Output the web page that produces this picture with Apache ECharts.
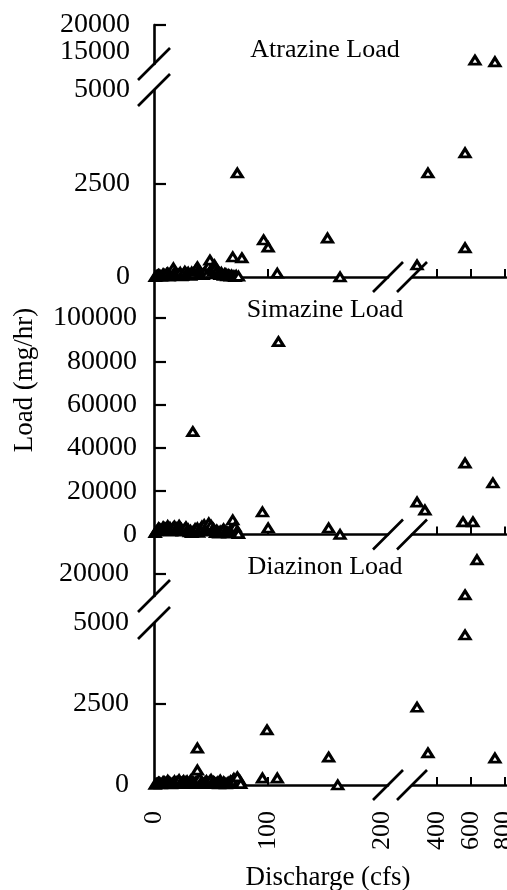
<!DOCTYPE html>
<html>
<head>
<meta charset="utf-8">
<script src="https://cdn.jsdelivr.net/npm/echarts@6/dist/echarts.min.js"></script>
<style>
html,body{margin:0;padding:0;background:#fff;}
#chart{width:507px;height:890px;}
</style>
</head>
<body>
<div id="chart"></div>
<script>
// ---------------- data: [discharge (cfs), load (mg/hr)] ----------------
const atrazine = [
  [1,10],[2,30],[3,40],[4,60],[5,50],[6,20],[7,30],[8,80],[9,60],[10,40],[11,90],[12,110],[13,20],[14,70],
  [15,100],[16,50],[17,240],[18,130],[19,90],[20,50],[21,60],[22,80],[23,120],[24,30],[25,40],[26,90],
  [27,150],[28,60],[29,100],[30,120],[31,70],[32,40],[33,130],[34,80],[35,90],[36,160],[37,200],[38,270],
  [39,180],[40,150],[41,100],[42,80],[43,60],[44,110],[45,130],[46,180],[47,90],[48,300],[49,450],[50,200],
  [51,220],[52,150],[53,320],[54,250],[55,160],[56,80],[57,100],[58,60],[59,120],[60,60],[61,40],[62,90],
  [63,80],[64,30],[65,60],[66,40],[67,20],[68,50],[70,30],[71,10],[72,40],[74,20],
  [73,2780],[69,535],[77,510],[96,990],[100,800],[108,100],[152,1040],[163,0],
  [280,320],[345,2780],[566,780],[566,3320],[625,13500],[744,13200]
];
const simazine = [
  [1,800],[2,1500],[3,2000],[4,3000],[5,2600],[6,2200],[7,1800],[8,3500],[9,3000],[10,2800],[11,2200],
  [12,4000],[13,2800],[14,3200],[15,1600],[16,2500],[17,3400],[18,3800],[19,2000],[20,3000],[21,2500],
  [22,4200],[23,3000],[24,2600],[25,1500],[26,2000],[27,2500],[28,3500],[29,1800],[30,2400],[31,1200],
  [32,1800],[33,800],[34,1200],[35,1500],[36,2600],[37,1800],[38,3000],[39,1000],[40,2000],[41,2600],
  [42,3800],[43,3000],[44,4500],[45,2000],[46,3200],[47,3500],[48,5300],[49,2500],[50,4200],[51,1500],
  [52,2800],[53,1800],[54,800],[55,2000],[56,1200],[57,600],[58,1500],[59,900],[60,1800],[61,2500],
  [62,800],[63,1500],[64,1200],[65,600],[66,1000],[67,2000],[68,2500],[69,6700],[70,1200],[71,3500],
  [72,800],[73,1500],[74,400],
  [34,47500],[109,89100],[95,10400],[100,3000],[153,3000],[163,0],
  [280,15000],[327,11300],[554,5800],[613,5800],[732,23800],[566,33000]
];
const diazinon = [
  [1,20],[2,40],[3,50],[4,80],[5,70],[6,30],[7,40],[8,100],[9,90],[10,60],[11,50],[12,140],[13,100],
  [14,70],[15,30],[16,50],[17,80],[18,120],[19,60],[20,90],[21,110],[22,160],[23,40],[24,70],[25,90],
  [26,130],[27,60],[28,100],[29,120],[30,60],[31,40],[32,150],[33,70],[34,110],[35,50],[36,80],[37,100],
  [39,150],[40,200],[41,60],[42,90],[43,40],[44,60],[45,90],[46,130],[47,50],[48,80],[49,120],[50,170],
  [51,60],[52,100],[53,80],[54,40],[55,60],[56,90],[57,30],[58,150],[59,70],[60,40],[61,90],[62,60],
  [63,30],[64,50],[65,80],[66,40],[67,120],[68,90],[69,150],[70,200],[71,120],[74,60],[75,150],[76,40],
  [38,1140],[38,460],[73,250],[95,215],[108,215],[99,1700],[153,860],[161,0],
  [280,2400],[345,990],[744,830],[566,4630],[566,16000],[637,22500]
];
const titles = ['Atrazine Load', 'Simazine Load', 'Diazinon Load'];
const xLeftLabels = [0, 100, 200];
const xRightLabels = [400, 600, 800];
const yBrokenLowLabels = [0, 2500, 5000];
const atrazineHighLabels = [15000];
const atrazineTopLabels = [20000];
const simazineLabels = [0, 20000, 40000, 60000, 80000, 100000];
const diazinonHighLabels = [20000];

// ---------------- layout ----------------
const FONT = 'Liberation Serif';
const AX = 154;
const xSegs = {
  left:  {left: AX,  right: 388, min: 0,   max: 205, ticks: [100], labels: xLeftLabels},
  right: {left: 412, right: 506, min: 250, max: 810, ticks: xRightLabels, labels: xRightLabels}
};
const panels = [
  {data: atrazine, title: titles[0], titleY: 50, labelMargin: 24, split: 5000,
   segs: [
     {key: 'high', top: 25, bottom: 64, min: 12800, max: 20000, ticks: [20000], labels: atrazineHighLabels, extraLabels: atrazineTopLabels},
     {key: 'low', top: 90, bottom: 277, min: 0, max: 5000, ticks: [2500], labels: yBrokenLowLabels, base: true}
   ], yBreak: [64, 90]},
  {data: simazine, title: titles[1], titleY: 310, labelMargin: 17, split: null,
   segs: [
     {key: 'all', top: 277, bottom: 534.5, min: 0, max: 119000, ticks: [20000,40000,60000,80000,100000], labels: simazineLabels, base: true}
   ]},
  {data: diazinon, title: titles[2], titleY: 567, labelMargin: 25, split: 5000,
   segs: [
     {key: 'high', top: 534.5, bottom: 596, min: 15800, max: 27200, ticks: [20000], labels: diazinonHighLabels},
     {key: 'low', top: 623, bottom: 785, min: 0, max: 5000, ticks: [2500], labels: yBrokenLowLabels, base: true, xLabels: true}
   ], yBreak: [596, 623]}
];

const grids = [], xAxes = [], yAxes = [], series = [], graphics = [];
const black = '#000';
const lineW = 2.6;
const plain = function (v) { return String(v); };

function yAxisDef(gi, ys, show, labels, margin, lineShow, tickShow) {
  return {
    type: 'value', gridIndex: gi, min: ys.min, max: ys.max, position: 'left', offset: 0,
    axisLine: {show: lineShow, onZero: false, lineStyle: {color: black, width: lineW}},
    axisTick: {show: tickShow, inside: true, length: 12, customValues: ys.ticks, lineStyle: {color: black, width: 2.2}},
    axisLabel: {show: show, customValues: labels, margin: margin,
                hideOverlap: false, showMinLabel: true, showMaxLabel: true, formatter: plain,
                fontFamily: FONT, fontSize: 28, color: black},
    splitLine: {show: false}
  };
}

panels.forEach(function (p) {
  p.segs.forEach(function (ys) {
    ['left', 'right'].forEach(function (side) {
      const xs = xSegs[side];
      const gi = grids.length;
      grids.push({left: xs.left, width: xs.right - xs.left, top: ys.top, height: ys.bottom - ys.top,
                  containLabel: false, outerBoundsMode: 'none', show: false});
      const showX = !!ys.base;
      xAxes.push({
        type: 'value', gridIndex: gi, min: xs.min, max: xs.max,
        axisLine: {show: showX, onZero: false, lineStyle: {color: black, width: lineW}},
        axisTick: {show: showX, inside: true, length: 8, customValues: xs.ticks, lineStyle: {color: black, width: 2}},
        axisLabel: {show: !!ys.xLabels, customValues: xs.labels, rotate: 90, margin: 26,
                    hideOverlap: false, showMinLabel: true, showMaxLabel: true, formatter: plain,
                    fontFamily: FONT, fontSize: 26, color: black},
        splitLine: {show: false}
      });
      const isLeft = side === 'left';
      const yi = yAxes.length;
      yAxes.push(yAxisDef(gi, ys, isLeft, ys.labels, p.labelMargin, isLeft, isLeft));
      if (isLeft && ys.extraLabels) {
        yAxes.push(yAxisDef(gi, ys, true, ys.extraLabels, p.labelMargin, false, false));
      }
      const pts = p.data.filter(function (d) {
        const inX = isLeft ? d[0] <= xs.max : d[0] > xSegs.left.max;
        let inY = true;
        if (p.split !== null) inY = ys.key === 'high' ? d[1] > p.split : d[1] <= p.split;
        return inX && inY;
      });
      series.push({
        type: 'scatter', xAxisIndex: gi, yAxisIndex: yi, data: pts, clip: false,
        symbol: 'triangle', symbolSize: [10, 8],
        itemStyle: {color: '#fff', borderColor: black, borderWidth: 3, opacity: 1},
        emphasis: {disabled: true}, silent: true, z: 3
      });
    });
  });
  // x-axis break slashes on the base line
  const base = p.segs[p.segs.length - 1].bottom;
  [xSegs.left.right, xSegs.right.left].forEach(function (cx) {
    graphics.push({type: 'line', shape: {x1: cx - 15, y1: base + 15, x2: cx + 15, y2: base - 15},
                   style: {stroke: black, lineWidth: lineW}, z: 10});
  });
  // y-axis break slashes
  if (p.yBreak) {
    p.yBreak.forEach(function (cy) {
      graphics.push({type: 'line', shape: {x1: AX - 16, y1: cy + 16, x2: AX + 16, y2: cy - 16},
                     style: {stroke: black, lineWidth: lineW}, z: 10});
    });
  }
  graphics.push({type: 'text', x: 325, y: p.titleY, z: 10,
    style: {text: p.title, font: '26px "' + FONT + '"', fill: black,
            align: 'center', verticalAlign: 'middle', textAlign: 'center', textVerticalAlign: 'middle'}});
});

graphics.push({type: 'text', x: 25, y: 380, rotation: Math.PI / 2, z: 10,
  style: {text: 'Load (mg/hr)', font: '27px "' + FONT + '"', fill: black,
          align: 'center', verticalAlign: 'middle', textAlign: 'center', textVerticalAlign: 'middle'}});
graphics.push({type: 'text', x: 328, y: 878, z: 10,
  style: {text: 'Discharge (cfs)', font: '27px "' + FONT + '"', fill: black,
          align: 'center', verticalAlign: 'middle', textAlign: 'center', textVerticalAlign: 'middle'}});

const chart = echarts.init(document.getElementById('chart'), null, {renderer: 'canvas'});
chart.setOption({
  animation: false,
  backgroundColor: '#fff',
  grid: grids,
  xAxis: xAxes,
  yAxis: yAxes,
  series: series,
  graphic: {elements: graphics}
});
</script>
</body>
</html>
